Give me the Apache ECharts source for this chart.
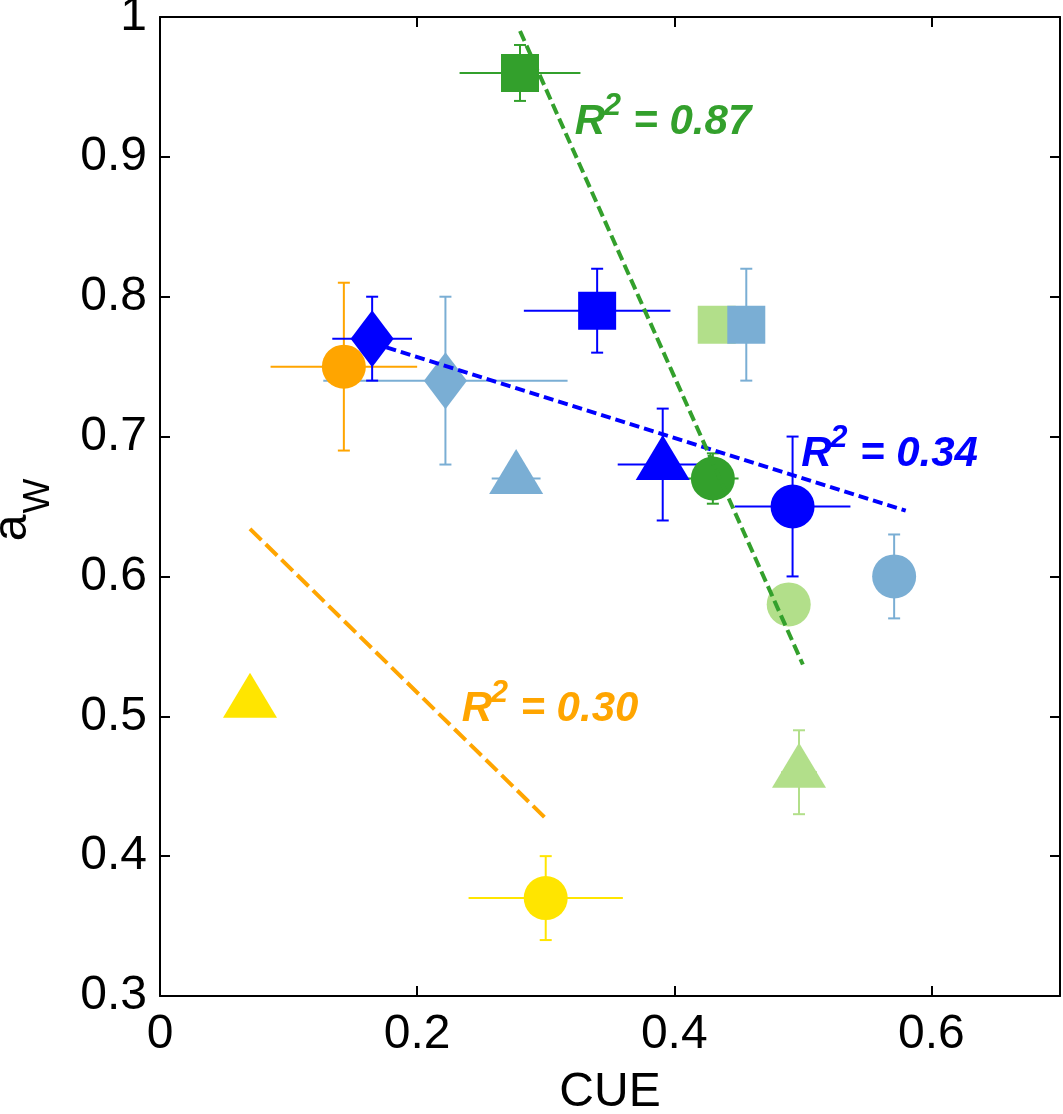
<!DOCTYPE html>
<html><head><meta charset="utf-8">
<script src="https://cdn.jsdelivr.net/npm/echarts@6/dist/echarts.min.js"></script>
<style>html,body{margin:0;padding:0;background:#fff}#c{width:1063px;height:1114px}</style>
</head><body><div id="c"></div>
<script>
// Each point: [CUE, aW, CUE error (±), aW error (±)]
const yellowCircle       = [[0.300, 0.370, 0.060, 0.030]];
const yellowTriangle     = [[0.070, 0.510, 0, 0]];
const orangeCircle       = [[0.143, 0.750, 0.057, 0.060]];
const lightGreenCircle   = [[0.489, 0.580, 0, 0]];
const lightGreenTriangle = [[0.497, 0.460, 0.014, 0.030]];
const lightGreenSquare   = [[0.433, 0.780, 0, 0]];
const lightBlueDiamond   = [[0.222, 0.740, 0.095, 0.060]];
const lightBlueTriangle  = [[0.277, 0.670, 0.019, 0]];
const lightBlueSquare    = [[0.456, 0.780, 0.010, 0.040]];
const lightBlueCircle    = [[0.571, 0.600, 0, 0.030]];
const blueDiamond        = [[0.165, 0.770, 0.031, 0.030]];
const blueSquare         = [[0.340, 0.790, 0.057, 0.030]];
const blueTriangle       = [[0.391, 0.680, 0.035, 0.040]];
const blueCircle         = [[0.492, 0.650, 0.045, 0.050]];
const greenSquare        = [[0.280, 0.960, 0.047, 0.020]];
const greenCircle        = [[0.430, 0.670, 0.020, 0.018]];

// Regression lines (endpoints)
const orangeFit = [[0.070, 0.634], [0.300, 0.427]];
const blueFit   = [[0.165, 0.767], [0.580, 0.647]];
const greenFit  = [[0.280, 0.990], [0.500, 0.537]];

// R² annotations
const r2Values = ['0.87', '0.34', '0.30'];

// Axis settings
const xMin = 0, xMax = 0.7, xStep = 0.2;
const yMin = 0.3, yMax = 1, yStep = 0.1;
const xTitle = 'CUE';

const C = {
  yellow: '#ffe500', orange: '#ffa500', lightGreen: '#b2df8a',
  lightBlue: '#7aaed4', blue: '#0000ff', green: '#33a02c'
};
const SHAPES = {
  circle: {symbol: 'circle', size: 44, offset: [0, 0]},
  square: {symbol: 'rect', size: 38, offset: [0, 0]},
  diamond: {symbol: 'diamond', size: [43, 57], offset: [0, 0]},
  triangle: {symbol: 'triangle', size: [54, 45], offset: [0, -7]}
};

function errorBars(data, color) {
  return {
    type: 'custom', data: data, z: 2, silent: true,
    encode: {x: 0, y: 1},
    renderItem: function (params, api) {
      const x = api.value(0), y = api.value(1), ex = api.value(2), ey = api.value(3);
      const style = {stroke: color, lineWidth: 2, fill: null};
      const ch = [];
      if (ex > 0) {
        const a = api.coord([x - ex, y]), b = api.coord([x + ex, y]);
        ch.push({type: 'line', shape: {x1: a[0], y1: a[1], x2: b[0], y2: b[1]}, style: style});
      }
      if (ey > 0) {
        const a = api.coord([x, y - ey]), b = api.coord([x, y + ey]);
        ch.push({type: 'line', shape: {x1: a[0], y1: a[1], x2: b[0], y2: b[1]}, style: style});
        ch.push({type: 'line', shape: {x1: a[0] - 6, y1: a[1], x2: a[0] + 6, y2: a[1]}, style: style});
        ch.push({type: 'line', shape: {x1: b[0] - 6, y1: b[1], x2: b[0] + 6, y2: b[1]}, style: style});
      }
      return {type: 'group', children: ch};
    }
  };
}
function markers(data, color, shape) {
  const s = SHAPES[shape];
  return {
    type: 'scatter', data: data.map(d => [d[0], d[1]]), symbol: s.symbol,
    symbolSize: s.size, symbolOffset: s.offset, silent: true,
    itemStyle: {color: color, opacity: 1}, z: 2
  };
}
function group(data, color, shape) { return [errorBars(data, color), markers(data, color, shape)]; }
function fitLine(data, color, dash) {
  return {
    type: 'line', data: data, showSymbol: false, symbol: 'none', silent: true, z: 3,
    lineStyle: {color: color, width: 4, type: dash, cap: 'butt'}
  };
}

const series = [].concat(
  group(yellowCircle, C.yellow, 'circle'),
  group(yellowTriangle, C.yellow, 'triangle'),
  group(orangeCircle, C.orange, 'circle'),
  group(lightGreenCircle, C.lightGreen, 'circle'),
  group(lightGreenTriangle, C.lightGreen, 'triangle'),
  group(lightGreenSquare, C.lightGreen, 'square'),
  group(lightBlueDiamond, C.lightBlue, 'diamond'),
  group(lightBlueTriangle, C.lightBlue, 'triangle'),
  group(lightBlueSquare, C.lightBlue, 'square'),
  group(lightBlueCircle, C.lightBlue, 'circle'),
  group(blueDiamond, C.blue, 'diamond'),
  group(blueSquare, C.blue, 'square'),
  group(blueTriangle, C.blue, 'triangle'),
  group(blueCircle, C.blue, 'circle'),
  group(greenSquare, C.green, 'square'),
  group(greenCircle, C.green, 'circle'),
  [fitLine(orangeFit, C.orange, [16, 6]),
   fitLine(blueFit, C.blue, [10, 5]),
   fitLine(greenFit, C.green, [11, 5])]
);

const FONT = '"Liberation Sans", Arial, sans-serif';
const fmt = v => String(Math.round(v * 10) / 10);
const axisCommon = {
  axisLine: {show: true, onZero: false, lineStyle: {color: '#000', width: 2}},
  axisTick: {show: true, inside: true, length: 10, lineStyle: {color: '#000', width: 2}},
  splitLine: {show: false}
};

const chart = echarts.init(document.getElementById('c'), null, {renderer: 'canvas'});
chart.setOption({
  backgroundColor: '#fff',
  animation: false,
  grid: {left: 160, right: 3, top: 17, bottom: 118, show: false, containLabel: false, outerBoundsMode: 'none'},
  xAxis: [
    Object.assign({
      type: 'value', min: xMin, max: xMax, interval: xStep, position: 'bottom',
      name: xTitle, nameLocation: 'middle', nameGap: 73,
      nameTextStyle: {fontSize: 48, color: '#000', fontFamily: FONT},
      axisLabel: {fontSize: 48, color: '#000', fontFamily: FONT, margin: 15, formatter: fmt, showMaxLabel: false}
    }, axisCommon),
    Object.assign({
      type: 'value', min: xMin, max: xMax, interval: xStep, position: 'top',
      axisLabel: {show: false}
    }, axisCommon)
  ],
  yAxis: [
    Object.assign({
      type: 'value', min: yMin, max: yMax, interval: yStep, position: 'left',
      axisLabel: {fontSize: 48, color: '#000', fontFamily: FONT, margin: 13, formatter: fmt}
    }, axisCommon),
    Object.assign({
      type: 'value', min: yMin, max: yMax, interval: yStep, position: 'right',
      axisLabel: {show: false}
    }, axisCommon)
  ],
  series: series
});

// R² annotation anchors (left edge of "R", baseline), in data coordinates
const r2Anchors = [[0.3225, 0.914], [0.4988, 0.6764], [0.2347, 0.4946]];
const r2Colors = [C.green, C.blue, C.orange];
const graphics = [];
const fsMain = 42, fsSup = 31;
r2Values.forEach((val, i) => {
  const p = chart.convertToPixel({gridIndex: 0}, r2Anchors[i]);
  const base = {fontFamily: FONT, fontWeight: 'bold', fontStyle: 'italic', fill: r2Colors[i], verticalAlign: 'middle', align: 'left'};
  graphics.push({type: 'text', x: p[0], y: p[1] - 0.35 * fsMain, style: Object.assign({text: 'R', fontSize: fsMain}, base), silent: true});
  graphics.push({type: 'text', x: p[0] + 29, y: p[1] - 20 - 0.35 * fsSup, style: Object.assign({text: '2', fontSize: fsSup}, base), silent: true});
  graphics.push({type: 'text', x: p[0] + 47, y: p[1] - 0.35 * fsMain, style: Object.assign({text: ' = ' + val, fontSize: fsMain}, base), silent: true});
});
// y-axis title a_W (rotated)
graphics.push({type: 'text', x: 13, y: 528, rotation: Math.PI / 2, silent: true,
  style: {text: 'a', fontSize: 48, fontFamily: FONT, fill: '#000', align: 'center', verticalAlign: 'middle'}});
graphics.push({type: 'text', x: 39, y: 496, rotation: Math.PI / 2, silent: true,
  style: {text: 'W', fontSize: 37, fontFamily: FONT, fill: '#000', align: 'center', verticalAlign: 'middle'}});
chart.setOption({graphic: graphics});
</script>
</body></html>
